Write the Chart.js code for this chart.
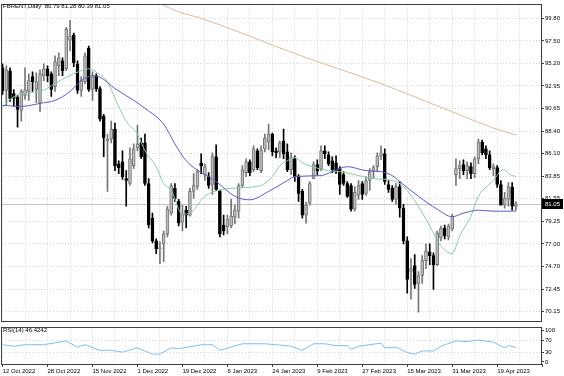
<!DOCTYPE html>
<html><head><meta charset="utf-8">
<script src="https://cdn.jsdelivr.net/npm/chart.js@4.4.1/dist/chart.umd.min.js"></script>
<style>
html,body{margin:0;padding:0;background:#fff;width:564px;height:376px;overflow:hidden;}
#wrap{position:relative;width:564px;height:376px;background:#fff;}
canvas{position:absolute;left:0;}
.ttl{position:absolute;font:6px 'Liberation Sans',Arial,sans-serif;color:#000;white-space:pre;line-height:6px;}
</style></head><body>
<div id="wrap">
<canvas id="main" width="564" height="325" style="top:0"></canvas>
<canvas id="rsi" width="564" height="53" style="top:323px"></canvas>
<div class="ttl" id="t1" style="left:3px;top:3px"></div>
<div class="ttl" id="t2" style="left:3px;top:327px"></div>
</div>
<script>
// ---- data ----
const symbolTitle = 'FBRENT,Daily';
const dateLabels = ['12 Oct 2022','28 Oct 2022','15 Nov 2022','1 Dec 2022','19 Dec 2022','6 Jan 2023','24 Jan 2023','9 Feb 2023','27 Feb 2023','15 Mar 2023','31 Mar 2023','19 Apr 2023'];
const priceTickLabels = ['70.15','72.45','74.70','77.00','79.25','81.55','83.85','86.10','88.40','90.65','92.95','95.20','97.50','99.80'];
const rsiTickValues = [0,30,70,100];
const rsiTickLabels = ['0','30','70','100'];

const opens = [94.8,92.5,94.5,92.2,91.8,90.5,92.0,92.4,93.9,92.6,
 91.3,94.0,94.7,94.2,92.9,95.0,95.5,94.7,97.6,98.1,
 95.2,92.5,93.4,96.8,92.6,94.0,92.7,89.9,87.4,87.6,
 88.6,85.1,85.3,83.6,83.1,84.9,86.7,87.2,87.2,83.1,
 79.6,77.3,76.5,77.0,78.0,80.1,82.6,81.3,79.2,80.4,
 79.9,82.3,82.8,85.2,84.0,83.8,83.0,85.8,82.3,78.9,
 78.7,78.8,79.7,80.3,82.9,84.2,85.3,84.5,86.4,84.4,
 86.6,87.3,88.1,86.4,86.3,87.4,86.3,84.5,85.6,83.8,
 82.3,79.9,81.1,83.6,85.0,84.6,86.4,86.0,85.4,85.2,
 84.6,84.0,83.1,82.9,80.5,81.9,83.1,82.1,83.4,84.3,
 84.8,85.9,86.1,83.0,82.6,81.5,82.8,80.6,77.3,74.2,
 74.8,73.0,73.8,75.3,76.2,75.8,74.9,77.6,78.6,77.7,
 78.5,84.0,84.6,85.0,84.4,84.8,84.1,85.6,87.3,86.6,
 86.0,84.6,84.7,83.0,80.9,81.5,82.7,80.79];
const highs = [95.2,95.0,94.8,92.6,92.0,92.6,94.8,94.2,94.4,94.3,
 94.6,95.2,95.0,94.4,96.0,96.3,95.8,98.9,99.6,98.3,
 95.5,93.9,96.3,97.0,94.4,94.2,92.9,90.1,88.1,89.4,
 89.2,85.4,86.4,84.4,86.7,87.1,89.0,87.7,88.1,83.6,
 80.1,77.5,77.2,78.3,80.8,83.1,83.1,81.5,80.9,80.8,
 82.6,84.1,84.5,86.1,85.1,84.2,86.2,87.0,82.4,79.9,
 79.9,81.5,80.9,83.1,84.9,85.6,85.5,86.9,86.6,86.9,
 88.1,89.1,88.2,86.7,87.4,88.6,87.1,86.2,85.9,84.0,
 82.5,81.2,83.3,85.3,85.5,86.9,86.9,86.3,85.8,85.9,
 84.8,84.3,83.3,83.1,82.8,83.4,83.3,83.8,84.6,84.9,
 86.2,86.9,86.6,83.4,82.9,83.1,83.3,81.0,77.7,75.5,
 75.9,74.2,75.8,77.0,77.0,76.1,78.3,78.8,78.9,79.0,
 80.0,85.6,85.4,85.5,85.3,85.2,85.8,87.6,87.5,86.9,
 86.4,85.1,84.9,83.4,82.2,83.2,83.2,81.28];
const lows = [92.1,91.0,91.4,90.9,88.8,89.4,91.6,91.5,92.4,91.3,
 90.4,93.5,93.4,91.9,92.4,94.0,94.0,94.5,96.5,94.9,
 92.2,91.9,93.2,92.4,91.5,92.4,89.4,85.8,82.3,87.2,
 84.4,84.1,83.5,80.8,82.9,84.6,86.4,85.6,82.9,78.6,
 77.1,76.0,75.0,75.2,77.7,79.9,81.3,78.8,78.3,78.6,
 79.8,81.6,82.5,84.1,83.4,82.6,82.0,82.4,77.7,77.9,
 78.0,78.6,79.0,79.6,82.7,83.8,83.9,84.3,84.5,84.2,
 86.3,86.5,85.9,85.7,85.7,85.6,84.3,84.0,83.3,81.3,
 79.6,79.1,80.9,83.6,84.0,84.4,85.6,84.9,84.2,84.1,
 82.0,82.9,81.7,80.3,80.3,81.5,81.5,81.9,82.4,83.6,
 84.3,85.5,83.0,82.2,81.3,81.0,79.7,77.0,72.0,71.4,
 72.5,70.1,73.0,74.5,74.9,72.4,74.8,77.3,77.5,77.4,
 78.3,82.9,83.6,84.0,83.6,83.6,83.7,85.1,86.0,85.6,
 84.5,83.9,82.7,80.9,80.6,80.8,80.4,80.39];
const closes = [92.45,94.6,91.7,91.7,90.6,92.4,92.6,93.5,93.4,93.4,
 94.2,94.7,94.0,92.6,95.4,95.8,94.5,98.7,98.0,95.3,
 92.5,93.5,96.0,92.6,93.9,92.7,89.6,87.7,87.6,88.6,
 84.9,84.7,83.8,83.4,85.6,86.6,87.1,85.8,83.1,78.9,
 77.3,76.5,76.6,78.0,80.5,82.9,81.6,79.1,80.0,79.9,
 82.3,82.9,84.3,84.9,84.8,82.9,85.9,82.5,78.0,78.3,
 79.5,79.8,80.4,82.9,84.5,85.3,84.2,86.6,84.7,86.5,
 87.7,88.1,86.3,86.2,87.2,86.1,84.5,85.8,83.8,82.1,
 79.9,80.9,83.1,85.0,84.4,86.4,86.1,85.1,84.5,84.3,
 83.0,83.1,81.8,80.5,82.2,82.9,82.0,83.4,84.3,84.7,
 85.9,86.2,83.3,82.5,81.5,82.8,80.6,77.3,73.4,74.5,
 72.9,73.8,75.3,76.3,75.8,74.9,78.1,78.6,77.8,78.8,
 79.8,84.6,84.9,84.4,84.9,84.1,85.6,87.3,86.2,86.0,
 84.7,84.8,83.0,80.9,81.6,82.8,80.8,81.05];

// moving averages (bar index, value)
const fastMaBars = [0,2,5,10,14,17,21,23,25,28,30,33,36,38,41,43,45,48,50,54,58,65,69,72,74,76,78,80,83,87,90,95,99,104,107,111,114,117,120,122,125,127,131,133,134,135,137];
const fastMaVals = [90.8,91.6,92.2,92.4,93.2,93.85,94.5,94.7,94.35,93.4,91.7,89.4,88.1,86.4,84.8,83.1,82.4,80.0,80.1,81.8,82.45,82.7,82.9,83.8,84.9,85.4,85.75,85.2,84.76,84.4,84.3,83.9,83.6,83.4,82.8,80.8,78.8,76.8,76.0,77.8,79.8,81.8,83.4,84.4,84.5,84.1,83.8];
const slowMaBars = [0,5,10,14,18,21,24,26,30,35,38,43,46,49,57,62,66,71,76,78,85,88,92,97,101,104,106,111,116,120,123,127,131,137];
const slowMaVals = [91.0,90.9,91.2,91.5,92.4,93.5,94.0,93.85,92.7,91.5,90.7,89.1,87.1,85.4,83.3,81.8,81.45,82.3,83.4,83.8,83.9,84.3,84.8,84.4,84.3,83.9,83.3,81.8,80.5,79.74,80.1,80.4,80.3,80.3];
const longMaBars = [43,47,53,79,101,113,122,131,137];
const longMaVals = [101.1,100.45,99.8,96.1,93.2,91.4,90.05,88.7,88.0];

const rsiBars = [0,3,6,11,17,20,22,26,29,32,36,40,42,45,47,53,56,58,64,70,73,77,80,83,86,89,92,93,95,101,102,105,108,110,112,115,117,118,121,124,127,131,134,135,137];
const rsiVals = [55,50,55,55,67,47,55,37,37,31,45,25,25,45,42,55,55,37,58,58,55,50,37,58,58,52,52,40,50,60,45,47,30,25,35,35,50,55,67,65,70,63,45,52,46.42];
const rsiLabel = 'RSI(14) 46.4242';

// ---- rendering ----
const FONT = "'Liberation Sans', Arial, sans-serif";
const N = closes.length;
const last = N - 1;
document.getElementById('t1').textContent = symbolTitle + '  ' + [opens[last],highs[last],lows[last],closes[last]].map(v=>v.toFixed(2)).join(' ');
document.getElementById('t2').textContent = rsiLabel;

const XMIN = -0.15, XMAX = -0.15 + 539/3.747;
const gridBars = []; for (let b = 0; b <= 144; b += 6) gridBars.push(b);
const pStep = (parseFloat(priceTickLabels[priceTickLabels.length-1]) - parseFloat(priceTickLabels[0])) / (priceTickLabels.length-1);
const pLow = parseFloat(priceTickLabels[0]);
const GRID = '#d4d4d4';
const BULL_FILL = '#bcbcbc', BULL_LINE = '#767676', BEAR = '#000000';
const idx = closes.map((_, i) => i);
const isBull = i => closes[i] >= opens[i];

const framePlugin = {
  id: 'frame',
  afterDraw(chart) {
    const {ctx, chartArea: a} = chart;
    ctx.save();
    ctx.strokeStyle = '#404040';
    ctx.lineWidth = 1;
    ctx.strokeRect(Math.round(a.left) - 0.5, Math.round(a.top) - 0.5, Math.round(a.right - a.left) + 1, Math.round(a.bottom - a.top) + 1);
    ctx.restore();
  }
};
const pricePlugin = {
  id: 'bidline',
  beforeDatasetsDraw(chart) {
    const {ctx, chartArea: a, scales} = chart;
    const y = Math.round(scales.y.getPixelForValue(closes[last])) + 0.5;
    ctx.save(); ctx.strokeStyle = '#c4c4c4'; ctx.lineWidth = 1;
    ctx.beginPath(); ctx.moveTo(a.left, y); ctx.lineTo(a.right, y); ctx.stroke(); ctx.restore();
  },
  afterDraw(chart) {
    const {ctx, chartArea: a, scales} = chart;
    const y = Math.round(scales.y.getPixelForValue(closes[last]));
    ctx.save();
    ctx.fillStyle = '#000'; ctx.fillRect(a.right + 1, y - 5, 21, 10);
    ctx.fillStyle = '#fff'; ctx.font = '6px ' + FONT; ctx.textBaseline = 'middle'; ctx.textAlign = 'left';
    ctx.fillText(closes[last].toFixed(2), a.right + 4, y + 0.5);
    ctx.restore();
  }
};

const line = (bars, vals, color, order) => ({
  type: 'line', data: bars.map((b, i) => ({x: b, y: vals[i]})), borderColor: color, borderWidth: 1,
  pointRadius: 0, cubicInterpolationMode: 'monotone', order, clip: 0
});

new Chart(document.getElementById('main'), {
  type: 'bar',
  data: { datasets: [
    { type:'bar', data: idx.map(i => ({x: i, y: [lows[i], highs[i]]})), backgroundColor: idx.map(i => isBull(i) ? BULL_LINE : BEAR),
      barThickness: 1, grouped: false, order: 5, borderWidth: 0 },
    { type:'bar', data: idx.map(i => ({x: i, y: [opens[i], closes[i]]})), backgroundColor: idx.map(i => isBull(i) ? BULL_FILL : BEAR),
      borderColor: idx.map(i => isBull(i) ? BULL_LINE : BEAR), borderWidth: 1, borderSkipped: false, minBarLength: 1,
      barThickness: 3, grouped: false, order: 4 },
    line(longMaBars, longMaVals, '#dcbc98', 3),
    line(fastMaBars, fastMaVals, '#8ccaa8', 2),
    line(slowMaBars, slowMaVals, '#5c5cc4', 1)
  ]},
  options: {
    responsive: false, animation: false, devicePixelRatio: 1,
    layout: { padding: { left: 2, top: 1, right: 0, bottom: 2 } },
    plugins: { legend: { display: false }, tooltip: { enabled: false } },
    scales: {
      x: { type: 'linear', min: XMIN, max: XMAX, offset: false,
        afterBuildTicks: s => { s.ticks = gridBars.map(v => ({value: v})); },
        afterFit: s => { s.height = 0; },
        ticks: { display: false }, grid: { color: GRID, drawTicks: false, offset: false },
        border: { display: false, dash: [1, 2] } },
      y: { position: 'right', min: 69.2575, max: 101.188,
        afterBuildTicks: s => { s.ticks = priceTickLabels.map((_, i) => ({value: pLow + i * pStep})); },
        afterFit: s => { s.width = 23; },
        ticks: { callback: (v, i) => priceTickLabels[i], font: { family: FONT, size: 6 }, color: '#000', padding: 1, autoSkip: false },
        grid: { color: GRID, tickLength: 3, tickColor: '#404040' },
        border: { display: true, color: '#404040', dash: [1, 2] } }
    }
  },
  plugins: [pricePlugin, framePlugin]
});

new Chart(document.getElementById('rsi'), {
  type: 'line',
  data: { datasets: [ { data: rsiBars.map((b, i) => ({x: b, y: rsiVals[i]})), borderColor: '#82bcec', borderWidth: 1, pointRadius: 0, tension: 0 } ] },
  options: {
    responsive: false, animation: false, devicePixelRatio: 1,
    layout: { padding: { left: 2, top: 2, right: 0, bottom: 0 } },
    plugins: { legend: { display: false }, tooltip: { enabled: false } },
    scales: {
      x: { type: 'linear', min: XMIN, max: XMAX,
        afterBuildTicks: s => { s.ticks = gridBars.map(v => ({value: v})); },
        afterFit: s => { s.height = 12; },
        ticks: { callback: v => (v % 12 === 0 && dateLabels[v / 12]) ? dateLabels[v / 12] : '', align: 'start', autoSkip: false, maxRotation: 0,
          font: { family: FONT, size: 6 }, color: '#000', padding: 1 },
        grid: { color: GRID, tickLength: 3, tickColor: c => (c.tick && c.tick.value % 12 === 0) ? '#404040' : 'rgba(0,0,0,0)' },
        border: { display: false, dash: [1, 2] } },
      y: { position: 'right', min: -6.89, max: 109.88,
        afterBuildTicks: s => { s.ticks = rsiTickValues.map(v => ({value: v})); },
        afterFit: s => { s.width = 23; },
        ticks: { callback: (v, i) => rsiTickLabels[i], font: { family: FONT, size: 6 }, color: '#000', padding: 1, autoSkip: false },
        grid: { color: c => (c.tick && (c.tick.value === 30 || c.tick.value === 70)) ? GRID : 'rgba(0,0,0,0)', tickLength: 3, tickColor: '#404040' },
        border: { display: true, color: '#404040', dash: [1, 2] } }
    }
  },
  plugins: [framePlugin]
});
</script>
</body></html>
